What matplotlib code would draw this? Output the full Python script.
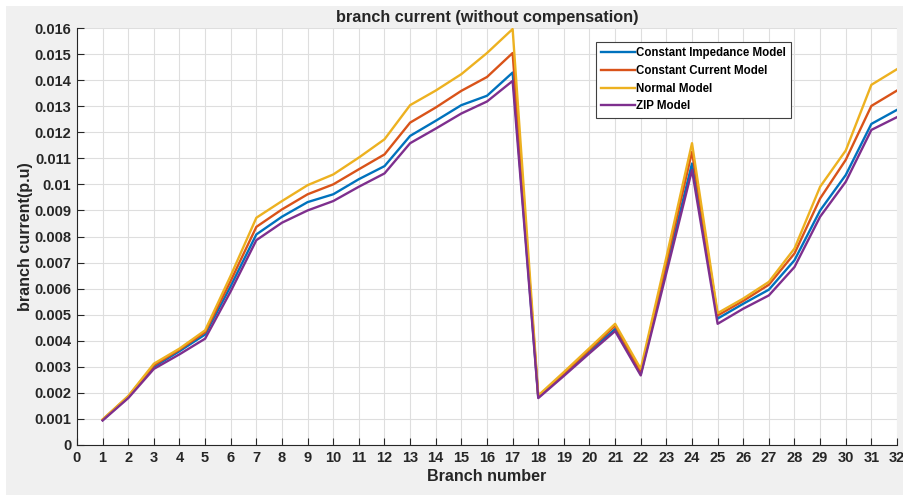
import matplotlib
matplotlib.use("Agg")
import matplotlib.pyplot as plt
from matplotlib.patches import Rectangle

plt.rcParams['font.family'] = ['Liberation Sans', 'DejaVu Sans']

branches = list(range(1, 33))

const_impedance = [0.00096, 0.00184, 0.00300, 0.00360, 0.00424, 0.00610, 0.00808, 0.00876,
                   0.00932, 0.00962, 0.01020, 0.01070, 0.01186, 0.01244, 0.01304, 0.01340,
                   0.01429, 0.00183, 0.00270, 0.00360, 0.00445, 0.00272, 0.00680, 0.01080,
                   0.00485, 0.00542, 0.00596, 0.00709, 0.00900, 0.01036, 0.01232, 0.01286]
const_current = [0.00097, 0.00186, 0.00306, 0.00366, 0.00433, 0.00630, 0.00837, 0.00904,
                 0.00962, 0.01000, 0.01058, 0.01115, 0.01237, 0.01295, 0.01359, 0.01412,
                 0.01504, 0.00186, 0.00275, 0.00366, 0.00458, 0.00280, 0.00700, 0.01125,
                 0.00497, 0.00553, 0.00615, 0.00735, 0.00946, 0.01094, 0.01301, 0.01360]
normal_model = [0.00098, 0.00188, 0.00312, 0.00370, 0.00440, 0.00650, 0.00872, 0.00936,
                0.00997, 0.01038, 0.01103, 0.01173, 0.01304, 0.01360, 0.01423, 0.01504,
                0.01596, 0.00190, 0.00280, 0.00372, 0.00465, 0.00292, 0.00720, 0.01158,
                0.00506, 0.00562, 0.00626, 0.00754, 0.00991, 0.01130, 0.01382, 0.01442]
zip_model = [0.00094, 0.00180, 0.00292, 0.00348, 0.00408, 0.00590, 0.00786, 0.00853,
             0.00900, 0.00936, 0.00991, 0.01042, 0.01158, 0.01214, 0.01272, 0.01318,
             0.01397, 0.00180, 0.00265, 0.00352, 0.00437, 0.00267, 0.00660, 0.01055,
             0.00465, 0.00523, 0.00574, 0.00683, 0.00876, 0.01010, 0.01209, 0.01258]

series_names = ['Constant Impedance Model', 'Constant Current Model', 'Normal Model', 'ZIP Model']
series_colors = ['#0072BD', '#D95319', '#EDB120', '#7E2F8E']

x_ticks = list(range(0, 33))
y_ticks = [i / 1000 for i in range(0, 17)]
y_tick_labels = ['0', '0.001', '0.002', '0.003', '0.004', '0.005', '0.006', '0.007', '0.008',
                 '0.009', '0.01', '0.011', '0.012', '0.013', '0.014', '0.015', '0.016']

fig = plt.figure(figsize=(9.04, 4.95), dpi=100, facecolor='white')
fig.patches.append(Rectangle((6 / 904, 0), 1 - 6 / 904, 1 - 6 / 495, transform=fig.transFigure,
                             facecolor='#f0f0f0', edgecolor='none', zorder=-10))
ax = fig.add_axes([77 / 904, 1 - 445 / 495, (897 - 77) / 904, (445 - 28) / 495])
ax.set_facecolor('white')

for vals, name, col in zip([const_impedance, const_current, normal_model, zip_model],
                           series_names, series_colors):
    ax.plot(branches, vals, color=col, lw=1.7, label=name)

ax.set_xlim(0, 32)
ax.set_ylim(0, 0.016)
ax.set_xticks(x_ticks)
ax.set_xticklabels([str(t) for t in x_ticks])
ax.set_yticks(y_ticks)
ax.set_yticklabels(y_tick_labels)
ax.tick_params(direction='in', length=5, width=0.8, color='#262626', labelsize=10.5,
               labelcolor='#262626', top=False, right=False, pad=4)
for lab in ax.get_xticklabels() + ax.get_yticklabels():
    lab.set_fontweight('bold')
ax.grid(True, color='#dedede', lw=0.8)
ax.set_axisbelow(True)
for s in ['top', 'right']:
    ax.spines[s].set_visible(False)
for s in ['left', 'bottom']:
    ax.spines[s].set_color('#262626')
    ax.spines[s].set_linewidth(0.8)

ax.set_title('branch current (without compensation)', fontsize=11.7, fontweight='bold',
             color='#262626', pad=4)
ax.set_xlabel('Branch number', fontsize=11.6, fontweight='bold', color='#262626', labelpad=3)
ax.set_ylabel('branch current(p.u)', fontsize=11.6, fontweight='bold', color='#262626', labelpad=1)

leg = ax.legend(loc='upper left', bbox_to_anchor=((596 - 77) / 820, (445 - 42) / 417),
                prop={'size': 8.3, 'weight': 'bold'}, fancybox=False, edgecolor='#404040',
                framealpha=1, handlelength=2.9, handletextpad=0.15, borderpad=0.45,
                labelspacing=0.5, borderaxespad=0)
leg.get_frame().set_linewidth(0.8)

fig.savefig('out.png', dpi=100, facecolor=fig.get_facecolor())
